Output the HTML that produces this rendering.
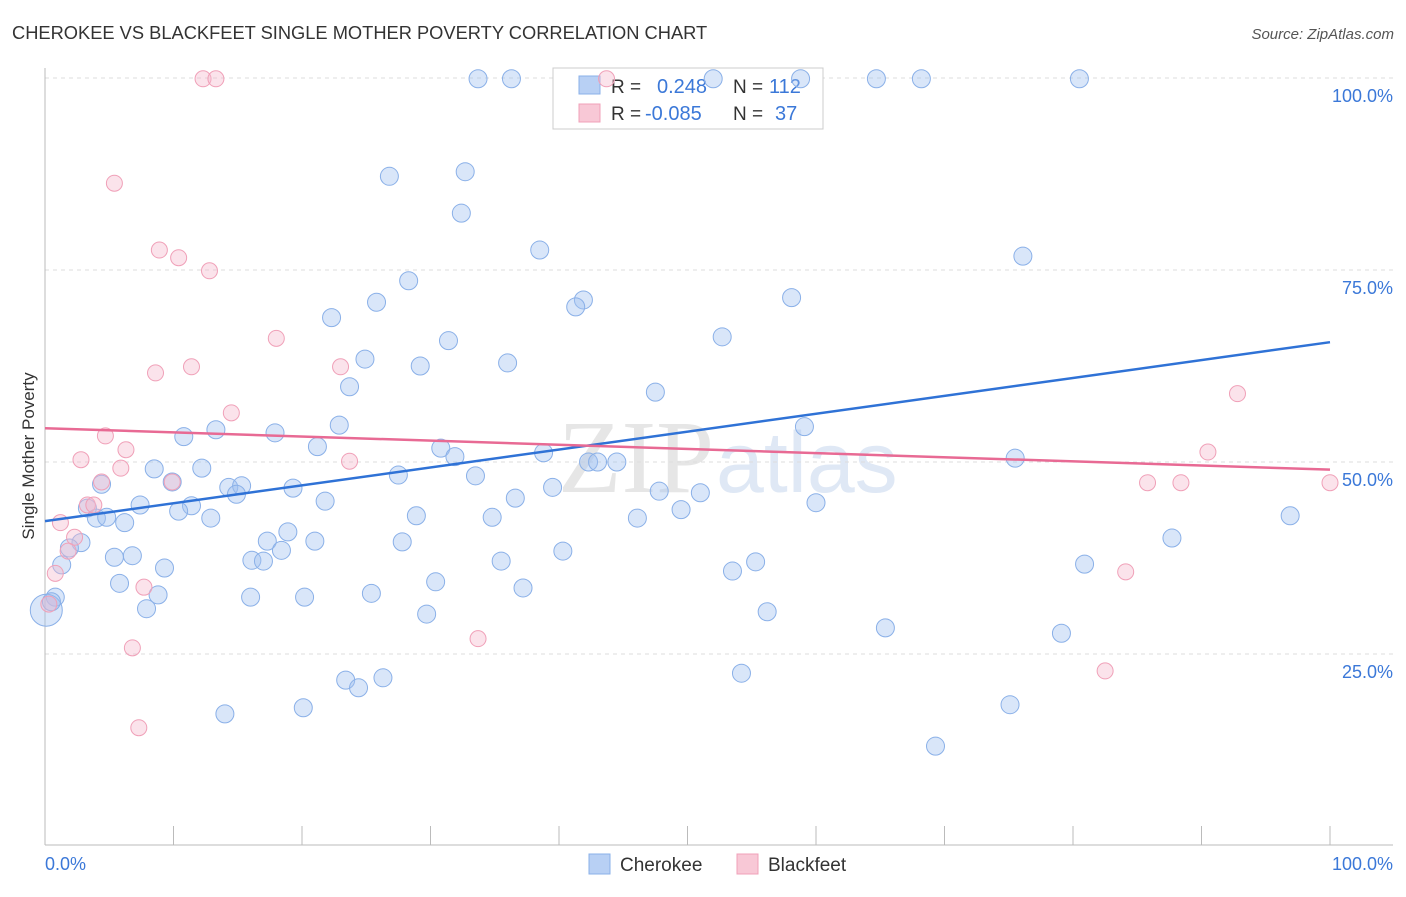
<!DOCTYPE html>
<html><head><meta charset="utf-8"><style>
body{margin:0;background:#fff;font-family:"Liberation Sans",sans-serif;}
</style></head><body>
<svg id="chart" width="1406" height="892" xmlns="http://www.w3.org/2000/svg" font-family="Liberation Sans, sans-serif">
<text x="12" y="39" font-size="18.3" fill="#333">CHEROKEE VS BLACKFEET SINGLE MOTHER POVERTY CORRELATION CHART</text>
<text x="1394" y="39" font-size="15" fill="#555" text-anchor="end" font-style="italic">Source: ZipAtlas.com</text>
<g>
<text x="558" y="492" font-size="104" fill="#e6e6e6" font-family="Liberation Serif, serif">ZIP</text>
<text x="716" y="492" font-size="86" fill="#dfe8f5">atlas</text>
</g>
<g id="grid"></g>
<g id="axes"></g>
<g>
<rect x="553" y="68" width="270" height="61" fill="#fff" stroke="#ccc"/>
<rect x="579" y="76" width="21" height="18" fill="#b8d0f4" stroke="#8ab0e8"/>
<rect x="579" y="104" width="21" height="18" fill="#f8c8d6" stroke="#f0a0b8"/>
<text x="611" y="93" font-size="19" fill="#333">R =</text>
<text x="657" y="93" font-size="20" fill="#3b78d8">0.248</text>
<text x="733" y="93" font-size="19" fill="#333">N =</text>
<text x="769" y="93" font-size="20" fill="#3b78d8">112</text>
<text x="611" y="120" font-size="19" fill="#333">R =</text>
<text x="645" y="120" font-size="20" fill="#3b78d8">-0.085</text>
<text x="733" y="120" font-size="19" fill="#333">N =</text>
<text x="775" y="120" font-size="20" fill="#3b78d8">37</text>
</g>
<g id="marks"></g>
<text transform="translate(34,456) rotate(-90)" font-size="17" fill="#333" text-anchor="middle">Single Mother Poverty</text>
<g>
<rect x="589" y="854" width="21" height="20" fill="#b8d0f4" stroke="#8ab0e8"/>
<text x="620" y="871" font-size="19" fill="#333">Cherokee</text>
<rect x="737" y="854" width="21" height="20" fill="#f8c8d6" stroke="#f0a0b8"/>
<text x="768" y="871" font-size="19" fill="#333">Blackfeet</text>
</g>
</svg>
<script>
const yTicks=[25,50,75,100];
const yTickLabels=["25.0%","50.0%","75.0%","100.0%"];
const xTicks=[0,10,20,30,40,50,60,70,80,90,100];
const cherokee=[[33.7,99.9],[36.3,99.9],[52.0,99.9],[58.8,99.9],[64.7,99.9],[68.2,99.9],[80.5,99.9],[26.8,87.2],[32.7,87.8],[32.4,82.4],[38.5,77.6],[76.1,76.8],[28.3,73.6],[25.8,70.8],[41.9,71.1],[41.3,70.2],[58.1,71.4],[22.3,68.8],[31.4,65.8],[52.7,66.3],[24.9,63.4],[29.2,62.5],[36.0,62.9],[23.7,59.8],[47.5,59.1],[59.1,54.6],[22.9,54.8],[10.8,53.3],[13.3,54.2],[17.9,53.8],[21.2,52.0],[30.8,51.8],[31.9,50.7],[38.8,51.2],[42.3,50.0],[43.0,50.0],[44.5,50.0],[75.5,50.5],[8.5,49.1],[12.2,49.2],[27.5,48.3],[33.5,48.2],[4.4,47.1],[9.9,47.4],[14.3,46.7],[15.3,46.9],[14.9,45.8],[19.3,46.6],[39.5,46.7],[47.8,46.2],[51.0,46.0],[21.8,44.9],[36.6,45.3],[7.4,44.4],[11.4,44.3],[10.4,43.6],[3.3,44.0],[4.0,42.7],[4.8,42.8],[6.2,42.1],[12.9,42.7],[28.9,43.0],[34.8,42.8],[46.1,42.7],[49.5,43.8],[60.0,44.7],[96.9,43.0],[18.9,40.9],[17.3,39.7],[21.0,39.7],[27.8,39.6],[2.8,39.5],[1.9,38.8],[87.7,40.1],[5.4,37.6],[6.8,37.8],[18.4,38.5],[16.1,37.2],[17.0,37.1],[40.3,38.4],[35.5,37.1],[1.3,36.6],[9.3,36.2],[53.5,35.8],[55.3,37.0],[80.9,36.7],[5.8,34.2],[8.8,32.7],[30.4,34.4],[37.2,33.6],[0.8,32.4],[16.0,32.4],[20.2,32.4],[25.4,32.9],[7.9,30.9],[29.7,30.2],[56.2,30.5],[65.4,28.4],[79.1,27.7],[0.1,30.7],[23.4,21.6],[26.3,21.9],[24.4,20.6],[54.2,22.5],[20.1,18.0],[14.0,17.2],[75.1,18.4],[69.3,13.0],[0.5,31.8]];
const blackfeet=[[12.3,99.9],[13.3,99.9],[5.4,86.3],[8.9,77.6],[10.4,76.6],[12.8,74.9],[18.0,66.1],[23.0,62.4],[11.4,62.4],[8.6,61.6],[14.5,56.4],[4.7,53.4],[2.8,50.3],[6.3,51.6],[5.9,49.2],[23.7,50.1],[9.9,47.4],[4.4,47.4],[3.3,44.4],[3.8,44.4],[1.2,42.1],[2.3,40.2],[1.8,38.4],[0.8,35.5],[7.7,33.7],[0.3,31.5],[6.8,25.8],[7.3,15.4],[33.7,27.0],[92.8,58.9],[90.5,51.3],[85.8,47.3],[88.4,47.3],[100,47.3],[84.1,35.7],[82.5,22.8],[43.7,99.9]];
const cherokeeTrend=[42.3,65.6];
const blackfeetTrend=[54.4,49.0];
const NS="http://www.w3.org/2000/svg";
const X=v=>45+v*12.85, Y=v=>846-v*7.68;
function mk(tag,attrs,parent){const e=document.createElementNS(NS,tag);for(const k in attrs)e.setAttribute(k,attrs[k]);document.getElementById(parent).appendChild(e);return e;}
yTicks.forEach((t,i)=>{
 const g=mk('line',{x1:45,x2:1393,y1:Y(t),y2:Y(t),stroke:'#ddd','stroke-dasharray':'4,4'},'grid');
 
 
 const l=mk('text',{x:1393,y:Y(t)+24,'font-size':18,fill:'#3b78d8','text-anchor':'end'},'axes');
 l.textContent=yTickLabels[i];
 
 
});
const ya=mk('line',{x1:45,x2:45,y1:68,y2:845,stroke:'#bbb'},'axes');


const xa=mk('line',{x1:45,x2:1393,y1:845,y2:845,stroke:'#bbb'},'axes');


xTicks.forEach(t=>{
 const k=mk('line',{x1:X(t),x2:X(t),y1:826,y2:845,stroke:'#bbb'},'axes');
 
 
});
const x0=mk('text',{x:45,y:870,'font-size':18,fill:'#3b78d8'},'axes');x0.textContent='0.0%';


const x1=mk('text',{x:1393,y:870,'font-size':18,fill:'#3b78d8','text-anchor':'end'},'axes');x1.textContent='100.0%';


cherokee.forEach((p,i)=>{
 const c=mk('circle',{cx:X(p[0]),cy:Y(p[1]),r:(i===99?16:9),fill:'rgba(160,192,240,0.4)',stroke:'#8ab0e8','stroke-width':1},'marks');
 
 
});
blackfeet.forEach(p=>{
 const c=mk('circle',{cx:X(p[0]),cy:Y(p[1]),r:8,fill:'rgba(246,184,204,0.4)',stroke:'#f0a0b8','stroke-width':1},'marks');
 
 
});
const t1=mk('line',{x1:X(0),x2:X(100),y1:Y(cherokeeTrend[0]),y2:Y(cherokeeTrend[1]),stroke:'#2f72d6','stroke-width':2.5},'marks');


const t2=mk('line',{x1:X(0),x2:X(100),y1:Y(blackfeetTrend[0]),y2:Y(blackfeetTrend[1]),stroke:'#e86a94','stroke-width':2.5},'marks');


</script>
</body></html>
